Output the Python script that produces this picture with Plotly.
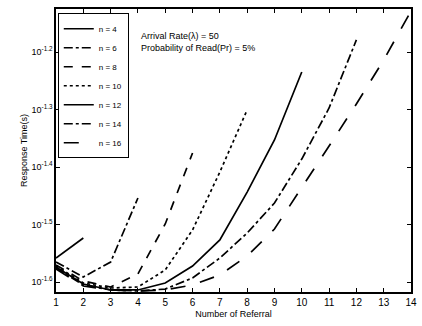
import plotly.graph_objects as go

referrals = list(range(1, 15))

series_names = ["n = 4", "n = 6", "n = 8", "n = 10", "n = 12", "n = 14", "n = 16"]

n4 = [0.02765, 0.02996]
n6 = [0.02721, 0.02563, 0.02721, 0.03516]
n8 = [0.02689, 0.02522, 0.02462, 0.02594, 0.03169, 0.04210]
n10 = [0.02678, 0.02502, 0.02452, 0.02462, 0.02636, 0.03093, 0.03902, 0.05002]
n12 = [0.02667, 0.02492, 0.02433, 0.02433, 0.02502, 0.02678, 0.02972, 0.03601, 0.04436, 0.05823]
n14 = [0.02657, 0.02482, 0.02433, 0.02423, 0.02442, 0.02553, 0.02765, 0.03056, 0.03446, 0.04110, 0.05042, 0.06622]
n16 = [0.02646, 0.02472, 0.02433, 0.02423, 0.02433, 0.02482, 0.02584, 0.02787, 0.03106, 0.03660, 0.04330, 0.05124, 0.06110, 0.07435]

series = [n4, n6, n8, n10, n12, n14, n16]
dashes = ["solid", "dashdot", "dash", "dot", "solid", "dashdot", "longdash"]

ytick_exps = [-1.6, -1.5, -1.4, -1.3, -1.2]
ytick_text = ["10<sup>-1.6</sup>", "10<sup>-1.5</sup>", "10<sup>-1.4</sup>", "10<sup>-1.3</sup>", "10<sup>-1.2</sup>"]

fig = go.Figure()
for name, vals, d in zip(series_names, series, dashes):
    fig.add_trace(go.Scatter(
        x=referrals[:len(vals)], y=vals, mode="lines", name=name,
        line=dict(color="black", width=1.7, dash=d),
    ))

fig.update_layout(
    width=422, height=326,
    margin=dict(l=56, r=5, t=9, b=34),
    paper_bgcolor="white", plot_bgcolor="white",
    font=dict(family="Arial, Liberation Sans", size=10, color="black"),
    showlegend=True,
    legend=dict(
        x=0.005, y=0.985, xanchor="left", yanchor="top",
        bgcolor="white", bordercolor="black", borderwidth=1,
        font=dict(size=8), itemwidth=30, tracegroupgap=0,
    ),
    xaxis=dict(
        range=[1, 14], tickmode="array", tickvals=referrals,
        ticks="inside", ticklen=4, tickcolor="black",
        showline=True, linecolor="black", linewidth=1.5, mirror="ticks",
        showgrid=False, zeroline=False,
        title=dict(text="Number of Referral", font=dict(size=9), standoff=4),
        tickfont=dict(size=10),
    ),
    yaxis=dict(
        type="log", range=[-1.6174, -1.1252],
        tickmode="array", tickvals=[10 ** e for e in ytick_exps], ticktext=ytick_text,
        ticks="inside", ticklen=4, tickcolor="black",
        showline=True, linecolor="black", linewidth=1.5, mirror="ticks",
        showgrid=False, zeroline=False,
        title=dict(text="Response Time(s)", font=dict(size=9), standoff=2),
        tickfont=dict(size=9),
    ),
)

fig.add_annotation(
    x=0.235, y=0.885, xref="paper", yref="paper", xanchor="left", yanchor="middle",
    text="Arrival Rate(λ) = 50<br>Probability of Read(Pr) = 5%",
    showarrow=False, align="left", font=dict(size=9, color="black"),
)

fig.write_html("out.html")
